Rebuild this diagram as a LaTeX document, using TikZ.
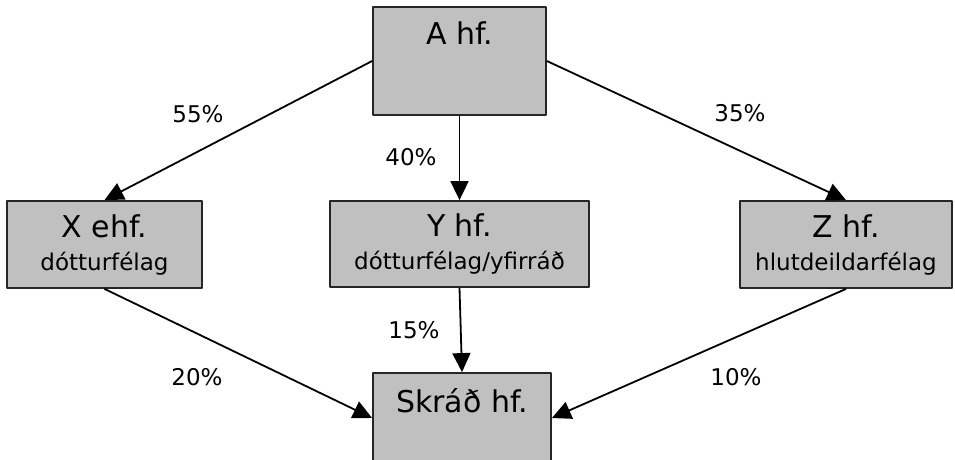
\documentclass[tikz,border=0pt]{standalone}
\usepackage{fontspec}
\setmainfont{DejaVu Sans}
\usetikzlibrary{arrows.meta}
\definecolor{boxgray}{HTML}{C0C0C0}
\newcommand{\subfont}{\fontsize{23}{33}\selectfont}
\tikzset{
  box/.style={draw=black!85,fill=boxgray,line width=1.8pt,inner sep=0pt,
    font=\fontsize{30}{33}\selectfont},
  title/.style={font=\fontsize{30}{33}\selectfont,inner sep=0pt},
  pct/.style={font=\fontsize{23}{28}\selectfont,inner sep=0pt},
  share/.style={->,line width=1.8pt},
}
\begin{document}
\begin{tikzpicture}[x=1pt,y=-1pt,line join=round,
    >={Triangle[length=19pt,width=18pt]}]
\useasboundingbox (0,0) rectangle (955,459);
% companies
\node[box,minimum width=173pt,minimum height=108pt] (a) at (459.5,61) {};
\node[title,anchor=base] (atxt) at (459.5,44) {A hf.};
\node[box,minimum width=195pt,minimum height=87pt,align=center] (x) at (104.5,244.5)
  {X ehf.\\{\subfont dótturfélag}};
\node[box,minimum width=259pt,minimum height=86pt,align=center] (y) at (459.5,244)
  {Y hf.\\{\subfont dótturfélag/yfirráð}};
\node[box,minimum width=212pt,minimum height=87pt,align=center] (z) at (846,244.5)
  {Z hf.\\{\subfont hlutdeildarfélag}};
\node[box,minimum width=178pt,minimum height=90pt] (s) at (462,418) {};
\node[title,anchor=base] (stxt) at (462,412) {Skráð hf.};
% holdings
\draw[share] (a.west) -- (x.north);
\draw[share] (a.south) -- (y.north);
\draw[share] (a.east) -- (z.north);
\draw[share] (x.south) -- (s.west);
\draw[share] (y.south) -- (s.north);
\draw[share] (z.south) -- (s.east);
% shares
\node[pct] (p55) at (198,114) {55\%};
\node[pct] (p40) at (411,157) {40\%};
\node[pct] (p35) at (740,113) {35\%};
\node[pct] (p20) at (197,377) {20\%};
\node[pct] (p15) at (414,330) {15\%};
\node[pct] (p10) at (736,377) {10\%};
\end{tikzpicture}
\end{document}
